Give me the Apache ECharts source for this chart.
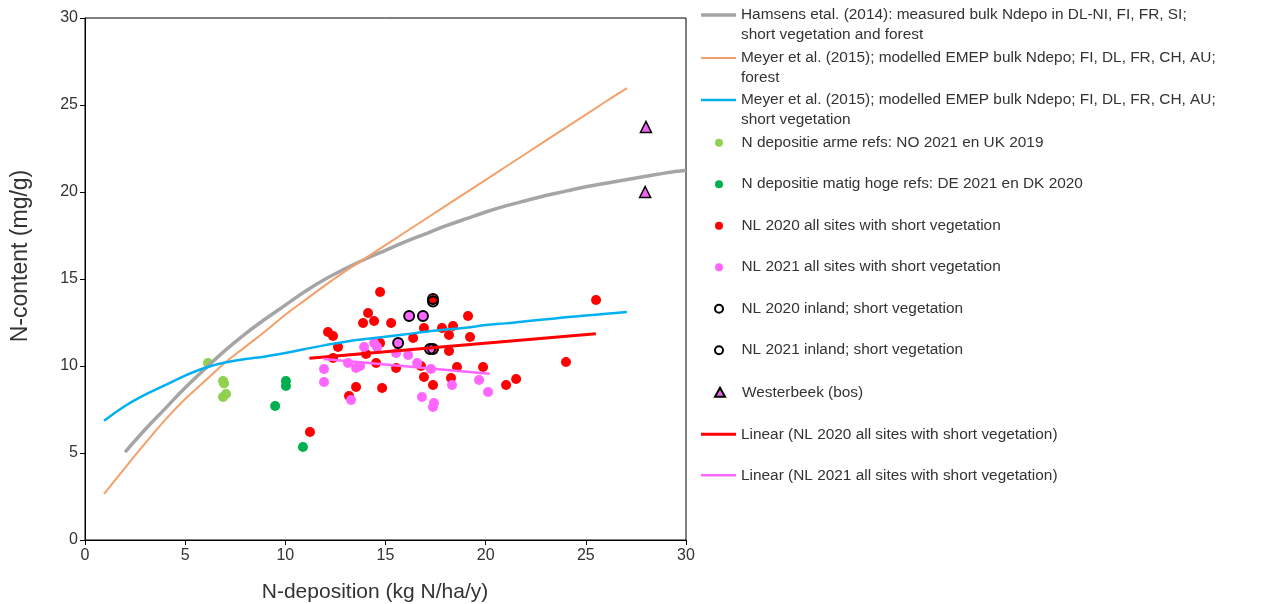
<!DOCTYPE html>
<html><head><meta charset="utf-8">
<script src="https://cdn.jsdelivr.net/npm/echarts@6/dist/echarts.min.js"></script>
<style>html,body{margin:0;padding:0;background:#fff}#c{width:1285px;height:604px}</style>
</head><body><div id="c"></div>
<script>
// ---- Data ----
const hamsensX = [2,3,4,5,6,7,8,9,10,11,12,13,14,15,16,17,18,19,20,21,22,23,24,25,26,27,28,29,30];
const hamsensY = [5.05,6.35,7.55,8.75,9.85,10.9,11.85,12.7,13.5,14.3,15.0,15.6,16.15,16.65,17.15,17.6,18.05,18.45,18.85,19.2,19.5,19.8,20.05,20.3,20.5,20.7,20.9,21.1,21.25];

const meyerForestX = [0.95,2,3,4,5,6,7,8,9,10,11,12,13,14,16,18,20,22,24,26,27.05];
const meyerForestY = [2.65,4.15,5.55,6.9,8.1,9.15,10.2,11.1,12.0,12.95,13.8,14.65,15.45,16.2,17.7,19.2,20.7,22.2,23.7,25.2,25.97];

const meyerShortX = [0.95,2,3,4,5,6,7,8,9,10,11,12,13,14,15,16,17,18,19,20,21,22,23,24,25,26,27.05];
const meyerShortY = [6.85,7.7,8.35,8.9,9.45,9.9,10.2,10.4,10.55,10.75,10.98,11.2,11.4,11.55,11.68,11.82,11.97,12.1,12.2,12.35,12.45,12.57,12.68,12.8,12.9,13.0,13.1];

const armeX = [6.14,6.89,6.94,6.89,7.04];
const armeY = [10.17,9.14,9.0,8.22,8.39];

const matigX = [10.03,10.03,9.49,10.88];
const matigY = [9.14,8.85,7.70,5.34];

const nl2020X = [14.73,14.13,13.88,14.43,15.28,12.13,12.38,12.63,16.92,16.38,14.73,14.03,14.53,15.53,16.92,17.37,13.53,14.83,13.18,11.23,12.38,19.12,17.82,18.37,18.17,19.22,18.17,18.57,19.87,18.27,21.02,21.52,17.37,16.77,24.01,25.51,17.37];
const nl2020Y = [14.25,13.05,12.47,12.59,12.47,11.95,11.72,11.09,12.18,11.61,11.32,10.69,10.17,9.89,9.37,8.91,8.79,8.74,8.28,6.21,10.46,12.87,12.18,12.30,11.78,11.67,10.86,9.94,9.94,9.31,8.91,9.25,13.79,10.0,10.23,13.79,10.98];

const nl2021X = [13.93,14.43,14.58,11.93,11.93,13.13,13.53,13.73,15.53,16.13,16.58,17.27,16.82,17.42,17.37,13.28,18.32,19.67,20.12,16.18,16.87,15.63,17.22];
const nl2021Y = [11.09,11.32,11.09,9.83,9.08,10.17,9.89,10.0,10.75,10.63,10.17,9.83,8.22,7.87,7.64,8.05,8.91,9.2,8.51,12.87,12.87,11.32,10.98];

const inland2020X = [17.37,17.37,17.37];
const inland2020Y = [13.85,13.7,10.98];

const inland2021X = [16.18,16.87,15.63,17.22];
const inland2021Y = [12.87,12.87,11.32,10.98];

const westerbeekX = [28.0,27.96];
const westerbeekY = [23.74,20.0];

const lin2020X = [11.2,25.5];
const lin2020Y = [10.45,11.85];
const lin2021X = [11.9,20.2];
const lin2021Y = [10.4,9.55];

const xTicks = [0,5,10,15,20,25,30];
const yTicks = [0,5,10,15,20,25,30];
const xTitle = 'N-deposition (kg N/ha/y)';
const yTitle = 'N-content (mg/g)';

// ---- Names ----
const N_HAM = 'Hamsens etal. (2014): measured bulk Ndepo in DL-NI, FI, FR, SI;\nshort vegetation and forest';
const N_MF = 'Meyer et al. (2015); modelled EMEP bulk Ndepo; FI, DL, FR, CH, AU;\nforest';
const N_MS = 'Meyer et al. (2015); modelled EMEP bulk Ndepo; FI, DL, FR, CH, AU;\nshort vegetation';
const N_ARM = 'N depositie arme refs: NO 2021 en UK 2019';
const N_MAT = 'N depositie matig hoge refs: DE 2021 en DK 2020';
const N_20 = 'NL 2020 all sites with short vegetation';
const N_21 = 'NL 2021 all sites with short vegetation';
const N_I20 = 'NL 2020 inland; short vegetation';
const N_I21 = 'NL 2021 inland; short vegetation';
const N_WB = 'Westerbeek (bos)';
const N_L20 = 'Linear (NL 2020 all sites with short vegetation)';
const N_L21 = 'Linear (NL 2021 all sites with short vegetation)';

function zip(xs, ys){ return xs.map((x,i)=>[x, ys[i]]); }

const FONT = '"Liberation Sans", Arial, sans-serif';
const TXT = '#333333';
const legendText = { fontFamily: FONT, fontSize: 15.4, color: TXT, lineHeight: 20 };

function lineLegend(name, top, h, twoLines){
  const o = {
    orient: 'vertical', left: 701, top: top, padding: 0, itemWidth: 35, itemHeight: h,
    icon: 'rect', selectedMode: false, data: [name], textStyle: legendText
  };
  if (twoLines) o.formatter = function(n){ return ' \n' + n; };
  return o;
}

const chart = echarts.init(document.getElementById('c'), null, {renderer: 'canvas'});
chart.setOption({
  animation: false,
  backgroundColor: '#ffffff',
  textStyle: { fontFamily: FONT },
  grid: { left: 85, right: 599, top: 18, bottom: 64, show: true, borderColor: '#000', borderWidth: 1, backgroundColor: 'transparent' },
  xAxis: {
    type: 'value', min: xTicks[0], max: xTicks[xTicks.length-1], interval: 5,
    axisLine: { show: true, onZero: false, lineStyle: { color: '#000', width: 1 } },
    axisTick: { show: true, inside: false, length: 5, lineStyle: { color: '#000' } },
    axisLabel: { fontFamily: FONT, fontSize: 16, color: TXT, margin: 8 },
    splitLine: { show: false }
  },
  yAxis: {
    type: 'value', min: yTicks[0], max: yTicks[yTicks.length-1], interval: 5,
    axisLine: { show: true, onZero: false, lineStyle: { color: '#000', width: 1 } },
    axisTick: { show: true, inside: false, length: 5, lineStyle: { color: '#000' } },
    axisLabel: { fontFamily: FONT, fontSize: 16, color: TXT, margin: 7 },
    splitLine: { show: false }
  },
  graphic: [
    { type: 'text', x: 375, y: 592, z: 10,
      style: { text: xTitle, font: '21px "Liberation Sans", Arial, sans-serif', fill: TXT, align: 'center', verticalAlign: 'middle' } },
    { type: 'text', x: 21, y: 256, rotation: Math.PI / 2, z: 10,
      style: { text: yTitle, font: '23px "Liberation Sans", Arial, sans-serif', fill: TXT, align: 'center', verticalAlign: 'middle' } }
  ],
  legend: [
    lineLegend(N_HAM, -15, 3.5, true),
    lineLegend(N_MF, 28, 2, true),
    lineLegend(N_MS, 70, 2.5, true),
    { orient: 'vertical', left: 714, top: 132.7, padding: 0, itemWidth: 35, itemHeight: 8, itemGap: 21.5,
      selectedMode: false, textStyle: legendText,
      data: [N_ARM, N_MAT, N_20, N_21, N_I20, N_I21] },
    { orient: 'vertical', left: 714, top: 382.3, padding: 0, itemWidth: 10, itemHeight: 9,
      selectedMode: false, data: [N_WB],
      formatter: function(n){ return '{p|}' + n; },
      textStyle: Object.assign({}, legendText, { rich: { p: { width: 12 } } }) },
    lineLegend(N_L20, 424.3, 3, false),
    lineLegend(N_L21, 465.3, 2.5, false)
  ],
  series: [
    { name: N_HAM, type: 'line', data: zip(hamsensX, hamsensY), smooth: 0.4, showSymbol: false, symbol: 'none',
      lineStyle: { color: '#A5A5A5', width: 3.5 }, itemStyle: { color: '#A5A5A5' } },
    { name: N_MF, type: 'line', data: zip(meyerForestX, meyerForestY), smooth: 0.4, showSymbol: false, symbol: 'none',
      lineStyle: { color: '#F4A06A', width: 2 }, itemStyle: { color: '#F4A06A' } },
    { name: N_MS, type: 'line', data: zip(meyerShortX, meyerShortY), smooth: 0.4, showSymbol: false, symbol: 'none',
      lineStyle: { color: '#00B0F0', width: 2.5 }, itemStyle: { color: '#00B0F0' } },
    { name: N_ARM, type: 'scatter', data: zip(armeX, armeY), symbol: 'circle', symbolSize: 10,
      itemStyle: { color: '#92D050', opacity: 1 } },
    { name: N_MAT, type: 'scatter', data: zip(matigX, matigY), symbol: 'circle', symbolSize: 10,
      itemStyle: { color: '#00B050', opacity: 1 } },
    { name: N_20, type: 'scatter', data: zip(nl2020X, nl2020Y), symbol: 'circle', symbolSize: 10,
      itemStyle: { color: '#FF0000', opacity: 1 } },
    { name: N_21, type: 'scatter', data: zip(nl2021X, nl2021Y), symbol: 'circle', symbolSize: 10,
      itemStyle: { color: '#FF66FF', opacity: 1 } },
    { name: N_I20, type: 'scatter', data: zip(inland2020X, inland2020Y), symbol: 'circle', symbolSize: 10,
      itemStyle: { color: 'rgba(255,255,255,0)', borderColor: '#000', borderWidth: 2, opacity: 1 } },
    { name: N_I21, type: 'scatter', data: zip(inland2021X, inland2021Y), symbol: 'circle', symbolSize: 10,
      itemStyle: { color: 'rgba(255,255,255,0)', borderColor: '#000', borderWidth: 2, opacity: 1 } },
    { name: N_WB, type: 'scatter', data: zip(westerbeekX, westerbeekY), symbol: 'triangle', symbolSize: 11,
      itemStyle: { color: '#EE66EE', borderColor: '#000', borderWidth: 1.5, opacity: 1 } },
    { name: N_L20, type: 'line', data: zip(lin2020X, lin2020Y), showSymbol: false, symbol: 'none',
      lineStyle: { color: '#FF0000', width: 3 }, itemStyle: { color: '#FF0000' } },
    { name: N_L21, type: 'line', data: zip(lin2021X, lin2021Y), showSymbol: false, symbol: 'none',
      lineStyle: { color: '#FF66FF', width: 2.5 }, itemStyle: { color: '#FF66FF' } }
  ]
});
</script></body></html>
